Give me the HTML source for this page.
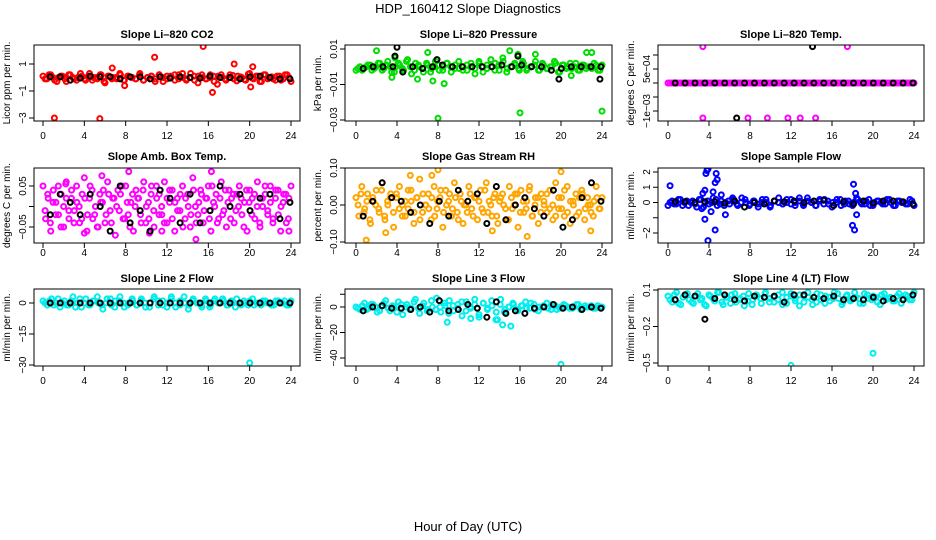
<!DOCTYPE html>
<html><head><meta charset="utf-8"><style>
html,body{margin:0;padding:0;background:#fff}
svg{display:block;font-family:"Liberation Sans",sans-serif}
</style></head><body>
<svg id="chart" width="936" height="540" viewBox="0 0 936 540" xmlns="http://www.w3.org/2000/svg">
<text x="468" y="13" text-anchor="middle" font-size="13">HDP_160412  Slope Diagnostics</text>
<text x="468" y="531" text-anchor="middle" font-size="13">Hour of Day (UTC)</text>
</svg>
<script>
// ---- data (top-level arrays) ----
const xTicks = [0,4,8,12,16,20,24];
const titles = ["Slope Li\u2013820 CO2","Slope Li\u2013820 Pressure","Slope Li\u2013820 Temp.","Slope Amb. Box Temp.","Slope Gas Stream RH","Slope Sample Flow","Slope Line 2 Flow","Slope Line 3 Flow","Slope Line 4 (LT) Flow"];
const yTitles = ["Licor ppm per min.","kPa per min.","degrees C per min.","degrees C per min.","percent per min.","ml/min per min.","ml/min per min.","ml/min per min.","ml/min per min."];
const colors = ["#ff0000","#00dd00","#ff00ff","#ff00ff","#ffa500","#0000ff","#00eeee","#00eeee","#00eeee"];

const yTickVals = [[-3,-1,1],[-0.03,-0.01,0.01],[-0.001,-0.0005,0,0.0005,0.001],[-0.05,0,0.05],[-0.1,0,0.1],[-2,-1,0,1,2],[-30,-15,0],[-40,-20,0,10],[-0.5,-0.2,0.1]];
const yTickLabels = [["\u22123","\u22121","1"],["\u22120.03","\u22120.01","0.01"],["\u22121e\u221203","","","5e\u221204",""],["\u22120.05","","0.05"],["\u22120.10","0.00","0.10"],["\u22122","","0","1","2"],["\u221230","\u221215","0"],["\u221240","\u221220","0",""],["\u22120.5","\u22120.2","0.1"]];

const co2Col = [0.1,-0.1,0.2,-0.2,0,0.1,-0.3,0.2,-0.1,0,0.1,-0.2,0.3,0,-0.1,0.2,-0.4,0.1,0,-0.1,0.2,-0.2,0.1,0,-0.1,0.3,-0.2,0,0.1,-0.1,0.2,-0.3,0.1,0,0.2,-0.1,0.3,-0.2,0,0.1,-0.4,0.2,-0.1,0,0.1,-0.5,0.2,-0.1,0,0.15,-0.25,0.05,-0.15,0.25,-0.05,0.1,-0.3,0.2,-0.1,0.05,-0.2,0.1,-0.1,0.2,-0.3];
const co2Col2 = [-0.1,0.2,0,-0.3,0.1,-0.1,0.2,0,-0.2,0.3,-0.1,0.1,-0.2,0,0.2,-0.3,0.1,-0.1,0,0.3,-0.2,0.1,0,-0.1,0.2,-0.2,0,0.1,-0.3,0.2,0,-0.1,0.1,-0.2,0.2,0,-0.1,0.3,-0.2,0.1,0,-0.1,0.2,-0.3,0.1,0,-0.2,0.2,-0.1,0.1,0,-0.2,0.3,-0.1,0.1,-0.3,0.2,0,-0.1,0.1,-0.2,0.2,0];
const co2Blk = [0.05,0.05,-0.2,-0.05,0.1,0.05,0.05,-0.1,0.05,0.05,-0.1,0.05,-0.05,0.05,0,-0.05,0.1,0,0,-0.1,0.05,0.1,0,-0.1,-0.1];
const co2OutX = [1.1,5.5,10.8,15.5,18.5,16.4,20.3,6.7,7.9,20.1];
const co2OutY = [-3,-3.05,1.5,2.3,1.0,-1.1,0.8,0.7,-0.6,-0.7];

const presCol = [-0.002,0,-0.001,0.001,-0.002,0,0.002,-0.001,0.003,-0.003,0,0.001,-0.002,0.004,-0.004,0.002,0,-0.003,0.001,-0.001,0.003,-0.002,0,0.002,-0.003,0.001,-0.001,0,-0.002,0.002,-0.004,0.003,0,-0.001,0.004,-0.002,0.001,0.005,-0.003,0,0.002,-0.001,0.003,-0.002,0,0.001,-0.002,0.002,-0.001,0,0.003,-0.003,0.001,-0.001,0.002,0,-0.002,0.001,-0.001,0,0.002,-0.002,0.001];
const presCol2 = [-0.001,-0.002,0,0.001,-0.001,0.002,-0.002,0.001,0,-0.003,0.002,-0.001,0.003,0,-0.002,0.001,-0.001,0.002,-0.003,0,0.001,-0.002,0.002,0,-0.001,0.003,-0.002,0.001,0,-0.001,0.002,-0.003,0.001,0,0.002,-0.002,0.003,-0.001,0,0.001,-0.002,0.002,-0.001,0,0.003,-0.002,0.001,-0.001,0,0.002,-0.003,0.001,0,-0.001,0.002,-0.002,0.001,0,-0.001,0.001,-0.002];
const presBlk = [-0.001,0,0,0,-0.003,0,-0.001,0,0.001,0,0,0,0,0,0.001,0,0.001,0,0,-0.002,-0.001,0,0,0,0];
const presOutX = [2,3.8,7,8,16,24,8.6,7.5,6,17.5,22.5,23,15,15.8,21,3.5];
const presOutY = [0.009,0.005,0.008,-0.029,-0.026,-0.025,-0.0095,-0.008,-0.007,0.007,0.008,0.008,0.009,0.007,-0.005,-0.006];
const presBlkOutX = [4,3.8,19.8,23.8,15.8,7.9];
const presBlkOutY = [0.011,0.006,-0.007,-0.007,0.006,0.004];

const tempCol = [0,0,0,0,0,0,0,0,0,0,0,0,0,0,0,0,0,0,0,0,0,0,0,0,0,0,0,0,0,0,0,0,0,0,0,0,0,0,0,0,0,0,0,0,0,0,0,0,0,0,0,0,0,0,0,0,0,0,0,0,0];
const tempCol2 = [0,0,0,0,0,0,0,0,0,0,0,0,0,0,0,0,0,0,0,0,0,0,0,0,0,0,0,0,0,0,0,0,0,0,0,0,0,0,0,0,0,0,0,0,0,0,0,0,0,0,0,0,0,0,0,0,0,0,0,0];
const tempBlk = [0,0,0,0,0,0,0,0,0,0,0,0,0,0,0,0,0,0,0,0,0,0,0,0,0];
const tempOutX = [3.4,17.5,3.4,7.8,9.7,11.7,12.9,14.4];
const tempOutY = [0.0013,0.0013,-0.00125,-0.00125,-0.00125,-0.00125,-0.00125,-0.00125];
const tempBlkOutX = [14.1,6.7];
const tempBlkOutY = [0.0013,-0.00125];

const ambCol = [0.05,-0.03,0.02,-0.06,0.04,0.01,-0.02,0.03,-0.05,0.06,-0.01,0.02,-0.04,0.05,0,-0.03,0.07,-0.06,0.02,0.04,-0.02,-0.05,0.03,0.01,-0.04,0.06,-0.01,0.02,-0.07,0.04,0.03,-0.03,0.05,-0.02,0.01,-0.06,0.04,0.02,-0.04,0.06,0,-0.03,0.05,-0.05,0.02,0.03,-0.02,0.06,-0.04,0.01,0.04,-0.06,0.02,-0.01,0.05,-0.03,0.03,-0.05,0.07,0,-0.02,0.04,-0.04,0.02,0.05,-0.06,0.01,0.03,-0.03,0.06,-0.01,-0.05,0.04,0.02,-0.04,0.03,0.05,-0.02,0.01,-0.06,0.04,0.02,-0.03,0.06,-0.05,0,0.03,-0.02,0.05,-0.04,0.02,0.04,-0.06,0.01,0.03,-0.03,0.05];
const ambCol2 = [-0.01,0.03,-0.04,0.01,-0.02,0.05,-0.05,0,0.02,-0.03,0.04,-0.01,0.01,-0.04,0.03,0.02,-0.02,0.05,-0.03,0,-0.05,0.01,0.04,-0.02,0.03,-0.04,0.02,0,-0.01,0.05,-0.03,0.01,-0.05,0.03,0,0.02,-0.02,0.04,-0.04,0.01,0.03,-0.01,0.05,-0.02,0,-0.04,0.02,0.04,-0.03,0.01,-0.01,0.03,-0.05,0.02,0,-0.02,0.04,-0.04,0.01,0.03,-0.01,0.02,-0.03,0.05,0,-0.04,0.02,-0.02,0.04,0.01,-0.03,0.03,-0.01,0,0.02,-0.05,0.04,0.01,-0.02,0.03,0,-0.04,0.02,0.05,-0.01,0.01,-0.03,0.04,-0.02,0,0.03,-0.04,0.02];
const ambBlk = [-0.02,0.03,0.01,-0.02,0.03,0,-0.06,0.05,-0.04,-0.01,-0.06,0.04,0.02,-0.04,0.03,-0.04,-0.01,0.05,0,0.03,-0.01,0.02,0.03,-0.03,0.01];
const ambOutX = [4,14.8,16.3,8.3,5.7,10.3,11.5,23.8,2.2];
const ambOutY = [-0.065,-0.08,0.085,0.085,0.075,-0.065,-0.06,-0.06,0.055];

const rhCol = [0.02,-0.03,0.05,-0.01,0.03,-0.05,0.01,0.04,-0.02,0.06,-0.04,0,0.03,-0.06,0.02,0.05,-0.03,0.01,-0.01,0.04,-0.05,0.02,0.07,-0.02,0,0.03,-0.04,0.05,-0.01,0.02,-0.06,0.04,0.01,-0.03,0.06,-0.02,0.03,-0.05,0,0.05,-0.01,0.02,-0.04,0.04,-0.02,0.06,0.01,-0.03,0.03,-0.05,0.02,0,-0.04,0.05,-0.01,0.03,-0.06,0.04,-0.02,0.01,0.05,-0.03,0.02,-0.05,0.03,0,-0.02,0.04,-0.04,0.06,-0.01,0.02,-0.03,0.05,-0.05,0.01,0.03,-0.02,0.04,-0.04,0.02,0,-0.03,0.05,-0.01,0.02];
const rhCol2 = [0,0.03,-0.02,0.01,-0.04,0.02,0,-0.01,0.04,-0.03,0.01,0.02,-0.02,0.03,-0.01,0,-0.03,0.04,0.01,-0.02,0.02,-0.04,0.03,0,-0.01,0.02,-0.03,0.01,0.04,-0.02,0,0.03,-0.01,0.02,-0.04,0.01,0,-0.02,0.03,-0.03,0.02,0.01,-0.01,0.04,-0.02,0,0.02,-0.03,0.01,0.03,-0.01,-0.04,0.02,0,0.03,-0.02,0.01,-0.01,0.04,-0.03,0,0.02,-0.02,0.01,0.03,-0.01,0,-0.03,0.02,-0.01,0.04,-0.02,0.01,0,-0.03,0.02,0.03,-0.01,0,-0.02,0.01,0.02,-0.01];
const rhBlk = [-0.03,0.01,0.06,0.02,0.01,-0.02,0,-0.05,0.01,-0.03,0.04,0.01,0.03,-0.05,0.05,-0.04,0,0.02,-0.01,-0.03,0.04,-0.06,-0.04,0.02,0.06,0.01];
const rhOutX = [1,2.9,8,13.3,16.7,20,7.4,22.9,5.3];
const rhOutY = [-0.095,-0.075,0.095,-0.07,-0.085,0.09,0.08,-0.07,0.08];

const sfCol = [-0.2,0.1,-0.1,0.2,0,-0.2,0.1,-0.3,0.2,0,-0.1,0.3,-0.2,0.1,0,-0.1,0.2,-0.2,0.3,0,-0.1,0.1,-0.3,0.2,0,-0.2,0.1,0.3,-0.1,0,0.2,-0.2,0.1,-0.1,0.3,0,-0.2,0.2,-0.1,0.1,-0.3,0,0.2,-0.1,0.1,-0.2,0.3,0,-0.1,0.2,-0.2,0.1,0,-0.1,0.2,-0.2,0.1,0,-0.1,0.2,-0.2];
const sfCol2 = [0,-0.1,0.2,-0.2,0.1,0,-0.1,0.2,-0.3,0.1,0,0.2,-0.1,-0.2,0.1,0.3,-0.1,0,0.2,-0.2,0.1,-0.1,0,0.2,-0.3,0.1,0,-0.1,0.2,-0.1,0,0.3,-0.2,0.1,0,-0.2,0.1,0.2,-0.1,0,0.2,-0.2,0.1,-0.1,0,0.2,-0.1,0.1,-0.2,0,0.1,-0.1,0.2,0,-0.2,0.1,0,-0.1,0.1];
const sfBlk = [0.05,0.05,0,0.05,0.05,-0.05,0.1,-0.3,0,-0.1,0.1,0.05,0.1,0,0.1,0.15,-0.2,0.05,-0.1,0.1,-0.05,0.1,0.1,0.05,-0.1];
const sfOutX = [0.2,3.4,3.6,3.8,3.7,3.9,4.7,4.6,4.8,4.6,3.9,3.6,5.6,4.4,3.3,18.1,18.0,18.2,18.4,18.3,4.2,5.2];
const sfOutY = [1.1,0.6,0.8,2.1,1.9,2.2,1.9,1.3,1.5,-1.8,-2.5,-1.1,-0.8,0.7,-0.4,1.2,-1.5,-1.8,-0.8,0.6,-0.6,0.5];

const l2Col = [1,-1,2,0,-2,1,-1,3,0,-2,2,-1,1,0,-3,2,-1,1,3,-2,0,1,-1,2,-2,0,3,-1,1,-2,2,0,-1,3,-3,1,0,-1,2,-2,1,0,2,-1,1,-2,0,1,-1,2,0,-1,1,0,-1,1,0,-1,1];
const l2Col2 = [0,1,-1,2,0,-1,1,-2,2,0,-1,1,3,-1,0,2,-2,1,0,-1,2,-1,1,0,-2,2,1,-1,0,3,-2,1,0,-1,2,0,-2,1,-1,2,0,1,-1,0,2,-1,0,1,-1,0,1,0,-1,1,0,1,-1];
const l2Blk = [0,0,0,0,0,0,0,0,0,0,0,0,0,0,0,0,0,0,0,0,0,0,0,0,0];
const l2OutX = [20];
const l2OutY = [-29];

const l3Col = [0,-2,3,-1,2,-4,1,5,-3,0,4,-6,2,-1,6,-5,3,-2,0,7,-4,1,5,-3,2,-7,4,-1,6,-8,3,-2,5,-10,2,-4,0,3,-2,1,4,-1,2,-3,0,3,-2,1,-1,2,0,-1,2,-2,1,0,-1,1,0];
const l3Col2 = [-1,1,-2,2,0,-3,3,-1,1,-4,2,0,-2,4,-1,1,-3,5,-2,0,3,-5,1,-1,4,-3,0,2,-6,3,-1,1,-4,6,-2,0,2,-3,1,-1,3,-2,0,1,-1,2,-2,0,1,-1,0,2,-1,0,1,-1,0];
const l3Blk = [-3,0,1,-1,-1,-2,0,-4,5,-3,-2,2,-1,-8,4,-5,-3,-5,-1,0,2,-1,0,-2,0,-1];
const l3OutX = [20,13.8,14.3,15.1,11.2,8.9];
const l3OutY = [-45,-10,-14,-15,-9,-12];

const l4Col = [0.05,0,0.08,-0.02,0.06,0.02,-0.01,0.07,0.03,-0.03,0.05,0.01,0.08,-0.02,0.04,0.06,0,0.03,-0.03,0.07,0.02,0.05,-0.01,0.08,0.03,0,0.06,-0.02,0.04,0.07,0.01,-0.03,0.05,0.08,0.02,0,0.06,-0.01,0.04,0.03,0.07,-0.02,0.05,0.01,0.08,0.03,-0.01,0.06,0.02,0.04,-0.02,0.07,0.03,0.01,0.05,-0.01,0.06,0.02,0.08];
const l4Col2 = [0.02,0.06,-0.01,0.04,0.07,0,0.05,0.02,-0.02,0.06,0.03,0.08,0,0.04,-0.01,0.07,0.02,0.05,0.01,-0.02,0.06,0.03,0.07,0,0.04,0.02,0.08,-0.01,0.05,0.03,0.06,0,0.04,-0.02,0.07,0.02,0.05,0.01,0.08,0.03,0,0.06,0.02,0.04,-0.01,0.07,0.03,0.05,0,0.06,0.02,0.04,0.01,0.07,0.03,0.05,0.02];
const l4Blk = [0.02,0.06,0.05,-0.14,0.03,0.06,0.02,0.01,0.05,0.04,0.05,0,0.06,0.06,0.04,0.03,0.05,0.02,0.03,0.02,0.04,0.01,0.03,0.02,0.06];
const l4OutX = [4,12,20];
const l4OutY = [-0.55,-0.52,-0.42];

const colSeries = [co2Col,presCol,tempCol,ambCol,rhCol,sfCol,l2Col,l3Col,l4Col];
const colSeries2 = [co2Col2,presCol2,tempCol2,ambCol2,rhCol2,sfCol2,l2Col2,l3Col2,l4Col2];
const blkSeries = [co2Blk,presBlk,tempBlk,ambBlk,rhBlk,sfBlk,l2Blk,l3Blk,l4Blk];
const outX = [co2OutX,presOutX,tempOutX,ambOutX,rhOutX,sfOutX,l2OutX,l3OutX,l4OutX];
const outY = [co2OutY,presOutY,tempOutY,ambOutY,rhOutY,sfOutY,l2OutY,l3OutY,l4OutY];
const blkOutX = [[],presBlkOutX,tempBlkOutX,[],[],[],[],[],[]];
const blkOutY = [[],presBlkOutY,tempBlkOutY,[],[],[],[],[],[]];

// ---- layout (geometry, not data) ----
const colGeo = [{l:34,r:300,x0:43,x1:291},{l:345,r:612,x0:356,x1:602},{l:658,r:924,x0:668,x1:914}];
const rowGeo = [{t:45,b:121,title:38,xl:139},{t:168,b:243,title:160,xl:256},{t:289,b:366,title:282,xl:384}];
const yCal = [[-3,118,1,64],[-0.03,120,0.01,49],[-0.001,111,0.0005,69],[-0.05,227,0.05,186],[-0.1,242,0.1,168],[-2,233,2,172],[-30,365,0,303],[-40,358,0,307],[-0.5,363,0.1,290]];

const NS='http://www.w3.org/2000/svg';
const svg=document.getElementById('chart');
function mk(tag,attrs,parent){const e=document.createElementNS(NS,tag);for(const k in attrs)e.setAttribute(k,attrs[k]);(parent||svg).appendChild(e);return e;}

for(let p=0;p<9;p++){
  const c=colGeo[p%3], r=rowGeo[Math.floor(p/3)], cal=yCal[p];
  const xs=v=>c.x0+(v/24)*(c.x1-c.x0);
  const ys=v=>cal[1]+(v-cal[0])*(cal[3]-cal[1])/(cal[2]-cal[0]);
  const g=mk('g',{});
  
  
  const cp=mk('clipPath',{id:'cp'+p},g);
  mk('rect',{x:c.l,y:r.t,width:c.r-c.l,height:r.b-r.t},cp);
  const t=mk('text',{x:(c.l+c.r)/2,y:r.title,'text-anchor':'middle','font-size':11,'font-weight':'bold'},g);
  t.textContent=titles[p];
  
  
  const yt=mk('text',{transform:`translate(${c.l-24},${(r.t+r.b)/2}) rotate(-90)`,'text-anchor':'middle','font-size':10},g);
  yt.textContent=yTitles[p];
  
  
  const pts=mk('g',{'clip-path':`url(#cp${p})`,fill:'none','stroke-width':2},g);
  
  
  const cs=colSeries[p];
  cs.forEach((v,i)=>{const d=mk('circle',{cx:xs(i*24/(cs.length-1)),cy:ys(v),r:2.5,stroke:colors[p]},pts);
    
    });
  const cs2=colSeries2[p];
  cs2.forEach((v,i)=>{const d=mk('circle',{cx:xs(0.2+i*23.6/(cs2.length-1)),cy:ys(v),r:2.5,stroke:colors[p]},pts);
    
    });
  outX[p].forEach((x,i)=>{const d=mk('circle',{cx:xs(x),cy:ys(outY[p][i]),r:2.5,stroke:colors[p]},pts);
    
    });
  const bs=blkSeries[p];
  bs.forEach((v,i)=>{const d=mk('circle',{cx:xs(0.7+i*23.2/(bs.length-1)),cy:ys(v),r:2.5,stroke:'#000'},pts);
    
    });
  blkOutX[p].forEach((x,i)=>{const d=mk('circle',{cx:xs(x),cy:ys(blkOutY[p][i]),r:2.5,stroke:'#000'},pts);
    
    });
  const box=mk('rect',{x:c.l,y:r.t,width:c.r-c.l,height:r.b-r.t,fill:'none',stroke:'#000','stroke-width':1},g);
  
  
  xTicks.forEach(v=>{const x=xs(v);
    mk('line',{x1:x,x2:x,y1:r.b,y2:r.b+5,stroke:'#000'},g);
    const tl=mk('text',{x:x,y:r.xl,'text-anchor':'middle','font-size':10},g);
    tl.textContent=v;
    
    });
  yTickVals[p].forEach((v,i)=>{const y=ys(v);
    mk('line',{x1:c.l-5,x2:c.l,y1:y,y2:y,stroke:'#000'},g);
    const tl=mk('text',{transform:`translate(${c.l-8},${y}) rotate(-90)`,'text-anchor':'middle','font-size':10},g);
    tl.textContent=yTickLabels[p][i];
    
    });
}
</script>
</body></html>
